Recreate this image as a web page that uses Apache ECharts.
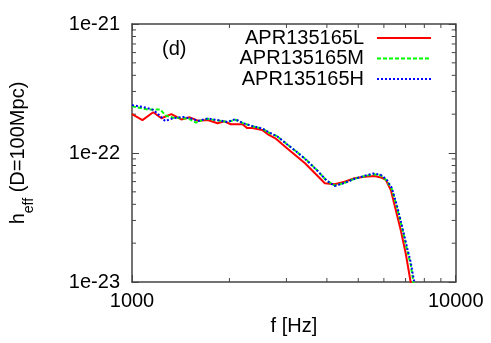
<!DOCTYPE html>
<html>
<head>
<meta charset="utf-8">
<script src="https://cdn.jsdelivr.net/npm/echarts@6/dist/echarts.min.js"></script>
<style>
    html, body { margin: 0; padding: 0; background: #fff; }
    #chart { width: 491px; height: 343px; }
</style>
</head>
<body>
<div id="chart"></div>
<script>
// 数据
const fL = [1000, 1077, 1163, 1233, 1323, 1420, 1507, 1597, 1714, 1838, 1928, 2019, 2193, 2271, 2353, 2525, 2647, 2772, 2974, 3191, 3424, 3674, 3942, 4230, 4538, 4869, 5224, 5606, 5876, 6086, 6304, 6530, 6764, 7007, 7258, 7320]
const hL = [2.00e-22, 1.80e-22, 2.07e-22, 1.86e-22, 2.00e-22, 1.82e-22, 1.89e-22, 1.78e-22, 1.80e-22, 1.70e-22, 1.76e-22, 1.67e-22, 1.67e-22, 1.56e-22, 1.56e-22, 1.51e-22, 1.38e-22, 1.30e-22, 1.12e-22, 9.65e-23, 8.32e-23, 6.96e-23, 5.82e-23, 5.72e-23, 5.99e-23, 6.37e-23, 6.55e-23, 6.64e-23, 6.46e-23, 6.18e-23, 5.16e-23, 3.61e-23, 2.53e-23, 1.67e-23, 1.00e-23, 9.0e-24]

const fM = [1000, 1123, 1222, 1275, 1339, 1437, 1500, 1576, 1650, 1714, 1838, 1972, 2087, 2193, 2353, 2525, 2671, 2805, 3010, 3230, 3467, 3720, 3992, 4223, 4529, 4860, 5215, 5570, 5876, 6128, 6348, 6576, 6812, 7056, 7258, 7400, 7450]
const hM = [2.30e-22, 2.17e-22, 2.17e-22, 1.94e-22, 1.88e-22, 1.86e-22, 1.84e-22, 1.72e-22, 1.80e-22, 1.84e-22, 1.79e-22, 1.74e-22, 1.81e-22, 1.71e-22, 1.61e-22, 1.55e-22, 1.42e-22, 1.35e-22, 1.17e-22, 1.02e-22, 8.8e-23, 7.4e-23, 6.1e-23, 5.6e-23, 5.85e-23, 6.3e-23, 6.6e-23, 6.85e-23, 6.7e-23, 6.1e-23, 5.25e-23, 3.85e-23, 2.7e-23, 1.83e-23, 1.37e-23, 1.0e-23, 9.0e-24]

const fH = [1000, 1084, 1163, 1231, 1266, 1339, 1437, 1542, 1597, 1714, 1838, 1972, 2087, 2193, 2353, 2525, 2671, 2805, 3010, 3230, 3467, 3720, 3992, 4223, 4529, 4860, 5215, 5570, 5876, 6128, 6348, 6576, 6812, 7056, 7258, 7444, 7500]
const hH = [2.35e-22, 2.27e-22, 2.16e-22, 1.90e-22, 1.77e-22, 1.86e-22, 1.90e-22, 1.84e-22, 1.77e-22, 1.85e-22, 1.80e-22, 1.74e-22, 1.83e-22, 1.71e-22, 1.62e-22, 1.55e-22, 1.43e-22, 1.35e-22, 1.17e-22, 1.02e-22, 8.75e-23, 7.38e-23, 6.12e-23, 5.55e-23, 5.85e-23, 6.29e-23, 6.64e-23, 6.94e-23, 6.76e-23, 6.18e-23, 5.35e-23, 3.95e-23, 2.77e-23, 1.90e-23, 1.43e-23, 1.00e-23, 9.0e-24]

const seriesNames = ['APR135165L', 'APR135165M', 'APR135165H']
const xMinorTicks = [2000, 3000, 4000, 5000, 6000, 7000, 8000, 9000]
const yMinorTicks = [2e-23, 3e-23, 4e-23, 5e-23, 6e-23, 7e-23, 8e-23, 9e-23, 2e-22, 3e-22, 4e-22, 5e-22, 6e-22, 7e-22, 8e-22, 9e-22]

// echarts' log scale rounds tick values to 10 decimals, so 1e-23 would become 0;
// plot h in units of 1e-22 and put the exponent back in the tick labels
const H_UNIT = 1e-22
const toUnit = v => v / H_UNIT

const FONT = 'Liberation Sans, Arial, sans-serif'
const FRAME = '#444'

const pairs = (xs, ys) => xs.map((x, i) => [x, toUnit(ys[i])])

const chart = echarts.init(document.getElementById('chart'))

const frameAxis = {
    axisLine: { show: true, lineStyle: { color: FRAME, width: 1.5 } },
    axisTick: { show: true, inside: true, length: 7, lineStyle: { color: FRAME, width: 1 } },
    splitLine: { show: false }
}

const mkLegend = (name, top) => ({
    data: [name],
    right: 59,
    top: top,
    padding: 0,
    align: 'right',
    itemWidth: 54,
    itemHeight: 10,
    selectedMode: false,
    itemStyle: { opacity: 0 },
    textStyle: { fontFamily: FONT, fontSize: 20, color: '#000', padding: [0, 8, 0, 0] }
})

const option = {
    animation: false,
    grid: { left: 128.5, right: 35.3, top: 24, bottom: 61 },
    legend: [
        mkLegend(seriesNames[0], 28),
        mkLegend(seriesNames[1], 48.5),
        mkLegend(seriesNames[2], 69)
    ],
    xAxis: [
        {
            ...frameAxis,
            type: 'log',
            logBase: 10,
            min: 1000,
            max: 10000,
            position: 'bottom',
            name: 'f [Hz]',
            nameLocation: 'middle',
            nameGap: 34,
            nameTextStyle: { fontFamily: FONT, fontSize: 20, color: '#000' },
            axisLabel: {
                fontFamily: FONT, fontSize: 20, color: '#000', margin: 9,
                formatter: v => String(Math.round(v))
            }
        },
        {
            ...frameAxis,
            type: 'log',
            logBase: 10,
            min: 1000,
            max: 10000,
            position: 'top',
            axisLabel: { show: false }
        }
    ],
    yAxis: [
        {
            ...frameAxis,
            type: 'log',
            logBase: 10,
            min: toUnit(1e-23),
            max: toUnit(1e-21),
            position: 'left',
            name: '{a|h}{b|eff}{a| (D=100Mpc)}',
            nameLocation: 'middle',
            nameGap: 96,
            nameTextStyle: {
                rich: {
                    a: { fontFamily: FONT, fontSize: 20, color: '#000', lineHeight: 28, verticalAlign: 'top' },
                    b: { fontFamily: FONT, fontSize: 14, color: '#000', lineHeight: 14, verticalAlign: 'bottom' }
                }
            },
            axisLabel: {
                fontFamily: FONT, fontSize: 20, color: '#000', margin: 12,
                formatter: v => '1e' + Math.round(Math.log10(v * H_UNIT))
            }
        },
        {
            ...frameAxis,
            type: 'log',
            logBase: 10,
            min: toUnit(1e-23),
            max: toUnit(1e-21),
            position: 'right',
            axisLabel: { show: false }
        }
    ],
    graphic: [{
        type: 'text',
        left: 162,
        top: 39,
        style: { text: '(d)', fontFamily: FONT, fontSize: 20, fill: '#000' }
    }],
    series: [
        {
            name: seriesNames[0],
            type: 'line',
            symbol: 'none',
            data: pairs(fL, hL),
            itemStyle: { color: '#ff0000' },
            lineStyle: { color: '#ff0000', width: 2 }
        },
        {
            name: seriesNames[1],
            type: 'line',
            symbol: 'none',
            data: pairs(fM, hM),
            itemStyle: { color: '#00ff00' },
            lineStyle: { color: '#00ff00', width: 2, type: [4, 2] }
        },
        {
            name: seriesNames[2],
            type: 'line',
            symbol: 'none',
            data: pairs(fH, hH),
            itemStyle: { color: '#0000ff' },
            lineStyle: { color: '#0000ff', width: 2, type: [2, 2] }
        }
    ]
}

chart.setOption(option)

// 小刻度 (log axes: minor ticks at 2..9 of each decade, on all four sides)
const drawMinorTicks = () => {
    const x0 = chart.convertToPixel({ xAxisIndex: 0 }, 1000)
    const x1 = chart.convertToPixel({ xAxisIndex: 0 }, 10000)
    const y0 = chart.convertToPixel({ yAxisIndex: 0 }, toUnit(1e-23))
    const y1 = chart.convertToPixel({ yAxisIndex: 0 }, toUnit(1e-21))
    const len = 4
    const st = { stroke: FRAME, lineWidth: 1 }
    const els = []
    xMinorTicks.forEach(v => {
        const px = chart.convertToPixel({ xAxisIndex: 0 }, v)
        els.push({ type: 'line', shape: { x1: px, y1: y0, x2: px, y2: y0 - len }, style: st, silent: true })
        els.push({ type: 'line', shape: { x1: px, y1: y1, x2: px, y2: y1 + len }, style: st, silent: true })
    })
    yMinorTicks.forEach(v => {
        const py = chart.convertToPixel({ yAxisIndex: 0 }, toUnit(v))
        els.push({ type: 'line', shape: { x1: x0, y1: py, x2: x0 + len, y2: py }, style: st, silent: true })
        els.push({ type: 'line', shape: { x1: x1, y1: py, x2: x1 - len, y2: py }, style: st, silent: true })
    })
    chart.setOption({ graphic: option.graphic.concat(els) }, { replaceMerge: ['graphic'] })
}

drawMinorTicks()
</script>
</body>
</html>
